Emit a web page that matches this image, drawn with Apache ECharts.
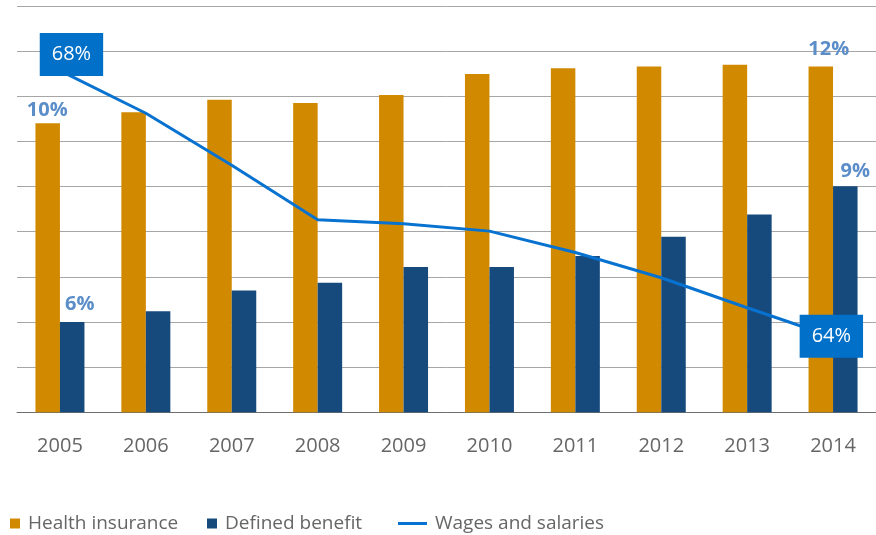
<!DOCTYPE html>
<html>
<head>
<meta charset="utf-8">
<script src="https://cdn.jsdelivr.net/npm/echarts@6/dist/echarts.min.js"></script>
<style>
  html, body { margin: 0; padding: 0; background: #fff; }
  #chart { width: 876px; height: 535px; }
</style>
</head>
<body>
<div id="chart"></div>
<script>
// data
var years = ['2005', '2006', '2007', '2008', '2009', '2010', '2011', '2012', '2013', '2014'];
var health = [10.02, 10.40, 10.83, 10.72, 11.0, 11.72, 11.92, 11.98, 12.04, 11.98];
var defined = [6.0, 6.24, 6.70, 6.87, 7.22, 7.22, 7.46, 7.89, 8.38, 9.01];
var wages = [68.0, 67.36, 66.58, 65.76, 65.70, 65.59, 65.27, 64.89, 64.44, 64.0];

var orange = '#D18A00',
    navy = '#174A7C',
    lineBlue = '#0772D0',
    boxBlue = '#0070C9',
    lblBlue = '#5B8DC9',
    font = 'Open Sans';

var chart = echarts.init(document.getElementById('chart'));

function pct(p) { return Math.round(p.value) + '%'; }

var barLabel = {
    show: true, position: 'top', distance: 0,
    formatter: pct, color: lblBlue, fontFamily: font,
    fontWeight: 'bold', fontSize: 20, lineHeight: 20
};
var boxLabel = {
    show: true, position: 'inside', formatter: pct,
    color: '#fff', fontFamily: font, fontSize: 20, lineHeight: 23,
    backgroundColor: boxBlue, padding: [10, 12]
};

// only first and last points get a label
function labelled(values, first, last) {
    return values.map(function (v, i) {
        if (i == 0) return { value: v, label: Object.assign({}, first) };
        if (i == values.length - 1) return { value: v, label: Object.assign({}, last) };
        return v;
    });
}

var legendText = { color: '#666', fontFamily: font, fontSize: 19, padding: [0, 0, 0, 3] };

var option = {
    animation: false,
    grid: { left: 17, right: 0, top: 6, bottom: 122.7 },
    legend: [
        { left: 10, top: 514, padding: 0, itemWidth: 10, itemHeight: 10, itemGap: 0, icon: 'rect',
          textStyle: legendText, data: ['Health insurance'] },
        { left: 207, top: 514, padding: 0, itemWidth: 10, itemHeight: 10, itemGap: 0, icon: 'rect',
          textStyle: legendText, data: ['Defined benefit'] },
        { left: 398, top: 514, padding: 0, itemWidth: 29, itemHeight: 3, itemGap: 0, icon: 'rect',
          textStyle: legendText, data: ['Wages and salaries'] }
    ],
    xAxis: {
        type: 'category',
        data: years,
        axisLine: { lineStyle: { color: '#6e6e6e', width: 1 } },
        axisTick: { show: false },
        axisLabel: { color: '#666', fontFamily: font, fontSize: 20, margin: 24 }
    },
    yAxis: [
        { type: 'value', show: false, min: 0, max: 14.08 },
        { type: 'value', min: 4, max: 13, interval: 1,
          axisLine: { show: false }, axisTick: { show: false }, axisLabel: { show: false },
          splitLine: { lineStyle: { color: '#a6a6a6', width: 1 } } },
        { type: 'value', show: false, min: 62.87, max: 68.97 }
    ],
    series: [
        {
            name: 'Health insurance', type: 'bar', yAxisIndex: 0,
            barWidth: 24.5, barGap: 0,
            itemStyle: { color: orange },
            data: labelled(health,
                Object.assign({}, barLabel, { offset: [-0.5, -2.5] }),
                Object.assign({}, barLabel, { offset: [8, -7] }))
        },
        {
            name: 'Defined benefit', type: 'bar', yAxisIndex: 1,
            barWidth: 24.5, barGap: 0,
            itemStyle: { color: navy },
            data: labelled(defined,
                Object.assign({}, barLabel, { offset: [7.5, -8] }),
                Object.assign({}, barLabel, { offset: [10, -4.5] }))
        },
        {
            name: 'Wages and salaries', type: 'line', yAxisIndex: 2,
            symbol: 'circle', symbolSize: 1, showSymbol: true,
            itemStyle: { color: lineBlue },
            lineStyle: { color: lineBlue, width: 3 },
            z: 5,
            data: labelled(wages,
                Object.assign({}, boxLabel, { offset: [11.5, -16] }),
                Object.assign({}, boxLabel, { offset: [-1.7, -0.7] }))
        }
    ]
};

chart.setOption(option);
</script>
</body>
</html>
